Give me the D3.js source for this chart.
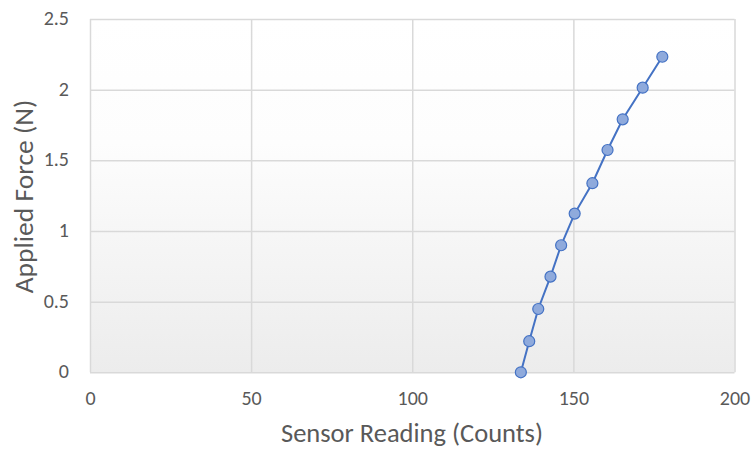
<!DOCTYPE html>
<html><head><meta charset="utf-8">
<script src="https://cdn.jsdelivr.net/npm/d3@7"></script>
<style>html,body{margin:0;padding:0;background:#fff;}svg{display:block;}</style>
</head><body>
<script>
const sensorCounts = [133.7, 136.3, 139.1, 142.9, 146.2, 150.4, 155.9, 160.6, 165.3, 171.5, 177.6];
const appliedForce = [0, 0.22, 0.448, 0.677, 0.899, 1.123, 1.338, 1.573, 1.79, 2.014, 2.233];
const xTicks = [0, 50, 100, 150, 200];
const yTicks = [0, 0.5, 1, 1.5, 2, 2.5];
const xTitle = "Sensor Reading (Counts)";
const yTitle = "Applied Force (N)";

const W = 751, H = 450;
const m = {left: 90, top: 19, right: 751 - 734.5, bottom: 450 - 372.3};
const iw = W - m.left - m.right, ih = H - m.top - m.bottom;
const font = "Calibri, Carlito, Lato, sans-serif";

const svg = d3.select("body").append("svg").attr("width", W).attr("height", H);
const defs = svg.append("defs");
const grad = defs.append("linearGradient").attr("id","bg").attr("x1",0).attr("y1",0).attr("x2",0).attr("y2",1);
grad.append("stop").attr("offset","0%").attr("stop-color","#ffffff");
grad.append("stop").attr("offset","35%").attr("stop-color","#fdfdfd");
grad.append("stop").attr("offset","100%").attr("stop-color","#ececec");

const x = d3.scaleLinear().domain([0, 200]).range([0, iw]);
const y = d3.scaleLinear().domain([0, 2.5]).range([ih, 0]);

const g = svg.append("g").attr("transform", `translate(${m.left},${m.top})`);
g.append("rect").attr("width", iw).attr("height", ih).attr("fill", "url(#bg)");

// gridlines
const xg = g.append("g").call(d3.axisBottom(x).tickValues(xTicks).tickSize(-ih).tickFormat(""))
  .attr("transform", `translate(0,${ih})`);
const yg = g.append("g").call(d3.axisLeft(y).tickValues(yTicks).tickSize(-iw).tickFormat(""));
[xg, yg].forEach(a => { a.select(".domain").remove(); a.selectAll("line").attr("stroke", "#d9d9d9").attr("stroke-width", 1.5); });

// tick labels
const xa = g.append("g").attr("transform", `translate(0,${ih})`)
  .call(d3.axisBottom(x).tickValues(xTicks).tickSize(0).tickPadding(0).tickFormat(d3.format("")));
xa.selectAll("text").attr("dy", null).attr("y", 33);
const ya = g.append("g")
  .call(d3.axisLeft(y).tickValues(yTicks).tickSize(0).tickPadding(21).tickFormat(d3.format("")));
ya.selectAll("text").attr("dy", null).attr("y", 5.5);
[xa, ya].forEach(a => { a.select(".domain").remove(); a.selectAll("text").attr("fill", "#595959").style("font-family", font).style("font-size", "20px"); });

// line + markers
const data = sensorCounts.map((v, i) => ({x: v, y: appliedForce[i]}));
g.append("path").datum(data)
  .attr("fill", "none").attr("stroke", "#4472c4").attr("stroke-width", 2)
  .attr("d", d3.line().x(d => x(d.x)).y(d => y(d.y)));
g.selectAll("circle").data(data).enter().append("circle")
  .attr("cx", d => x(d.x)).attr("cy", d => y(d.y)).attr("r", 5.5)
  .attr("fill", "#8faadc").attr("stroke", "#4472c4").attr("stroke-width", 1.2);

// axis titles
svg.append("text").attr("x", 412).attr("y", 441.5).attr("text-anchor", "middle")
  .attr("fill", "#595959").style("font-family", font).style("font-size", "26.5px").text(xTitle);
svg.append("text").attr("transform", "translate(33,196.5) rotate(-90)").attr("text-anchor", "middle")
  .attr("fill", "#595959").style("font-family", font).style("font-size", "27.5px").text(yTitle);
</script>
</body></html>
